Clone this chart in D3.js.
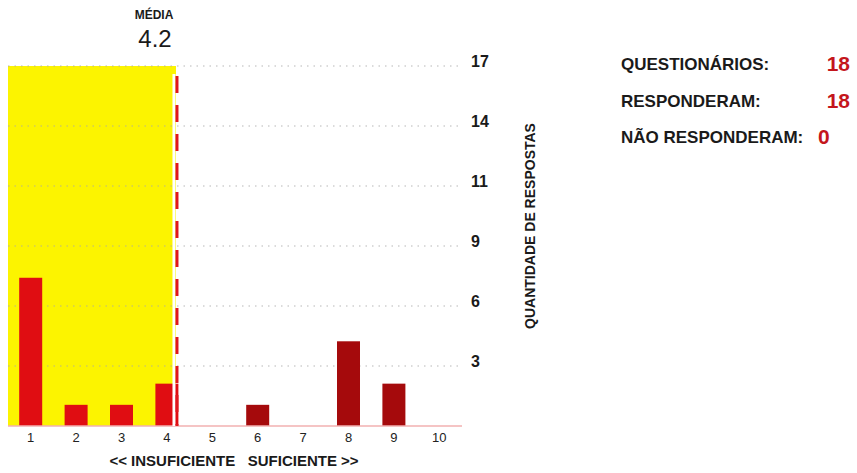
<!DOCTYPE html>
<html>
<head>
<meta charset="utf-8">
<script src="https://cdn.jsdelivr.net/npm/d3@7"></script>
<style>
  body { margin: 0; background: #fff; }
  svg { font-family: "Liberation Sans", Arial, sans-serif; }
</style>
</head>
<body>
<div id="chart"></div>
<script>
  // notas 1..10 e quantidade de respostas
  var notas = [1, 2, 3, 4, 5, 6, 7, 8, 9, 10];
  var respostas = [7, 1, 1, 2, 0, 1, 0, 4, 2, 0];
  var yMax = 17;
  var yTickCount = 6;
  var media = 4.2;
  var resumoLabels = ["QUESTIONÁRIOS:", "RESPONDERAM:", "NÃO RESPONDERAM:"];
  var resumoValores = [18, 18, 0];

  var width = 857, height = 473;

  var svg = d3.select("#chart")
              .append("svg")
              .attr("width", width)
              .attr("height", height);

  var x = d3.scaleLinear().domain([0.5, 10.5]).range([8, 462]);
  var y = d3.scaleLinear().domain([0, yMax]).range([426, 66]);

  var tickVals = d3.range(1, yTickCount + 1).map(function(k) { return yMax * k / yTickCount; });

  // area amarela ate a media
  svg.append("rect")
     .attr("x", x(0.5))
     .attr("y", y(yMax))
     .attr("width", x(media) - x(0.5))
     .attr("height", y(0) - y(yMax))
     .attr("fill", "#fcf400");

  // linhas de grade pontilhadas
  svg.selectAll(".grid")
     .data(tickVals)
     .enter()
     .append("line")
     .attr("class", "grid")
     .attr("x1", x(0.5))
     .attr("x2", x(10.5))
     .attr("y1", function(d) { return y(d); })
     .attr("y2", function(d) { return y(d); })
     .attr("stroke", "#a8a8a8")
     .attr("stroke-width", 1.2)
     .attr("stroke-dasharray", "1.5,5")
     .attr("opacity", 0.8);

  // barras
  var barW = 23;
  svg.selectAll(".bar")
     .data(respostas)
     .enter()
     .append("rect")
     .attr("class", "bar")
     .attr("x", function(d, i) { return x(notas[i]) - barW / 2; })
     .attr("y", function(d) { return y(d); })
     .attr("width", barW)
     .attr("height", function(d) { return y(0) - y(d); })
     .attr("fill", function(d, i) { return notas[i] <= 4 ? "#e00d12" : "#a50a0c"; });

  // eixo x
  svg.append("line")
     .attr("x1", x(0.5))
     .attr("x2", x(10.5))
     .attr("y1", y(0))
     .attr("y2", y(0))
     .attr("stroke", "#f2b0b0")
     .attr("stroke-width", 1.5);

  // linha da media
  svg.append("line")
     .attr("x1", x(media) - 2)
     .attr("x2", x(media) - 2)
     .attr("y1", y(yMax) + 8)
     .attr("y2", y(0))
     .attr("stroke", "#ffffff")
     .attr("stroke-width", 3);

  svg.append("line")
     .attr("x1", x(media) + 1)
     .attr("x2", x(media) + 1)
     .attr("y1", y(yMax) + 10)
     .attr("y2", y(0))
     .attr("stroke", "#e0161e")
     .attr("stroke-width", 3)
     .attr("stroke-dasharray", "17,12");

  // rotulos x
  svg.selectAll(".xlabel")
     .data(notas)
     .enter()
     .append("text")
     .attr("class", "xlabel")
     .attr("x", function(d) { return x(d); })
     .attr("y", 442)
     .attr("text-anchor", "middle")
     .attr("font-size", 13)
     .attr("fill", "#222")
     .text(function(d) { return d; });

  svg.append("text")
     .attr("x", 234)
     .attr("y", 466)
     .attr("text-anchor", "middle")
     .attr("font-size", 15)
     .attr("font-weight", "bold")
     .attr("fill", "#1a1a1a")
     .style("white-space", "pre")
     .text("<< INSUFICIENTE   SUFICIENTE >>");

  // rotulos y
  svg.selectAll(".ylabel")
     .data(tickVals)
     .enter()
     .append("text")
     .attr("class", "ylabel")
     .attr("x", 471)
     .attr("y", function(d) { return y(d) + 1; })
     .attr("font-size", 16)
     .attr("font-weight", "bold")
     .attr("fill", "#1a1a1a")
     .text(function(d) { return Math.round(d); });

  svg.append("text")
     .attr("transform", "translate(535,226) rotate(-90)")
     .attr("text-anchor", "middle")
     .attr("font-size", 14)
     .attr("font-weight", "bold")
     .attr("fill", "#1a1a1a")
     .text("QUANTIDADE DE RESPOSTAS");

  // media no topo
  svg.append("text")
     .attr("x", 154)
     .attr("y", 19)
     .attr("text-anchor", "middle")
     .attr("font-size", 12)
     .attr("font-weight", "bold")
     .attr("fill", "#1a1a1a")
     .text("MÉDIA");

  svg.append("text")
     .attr("x", 155)
     .attr("y", 47)
     .attr("text-anchor", "middle")
     .attr("font-size", 24)
     .attr("fill", "#1a1a1a")
     .text(media.toFixed(1));

  // resumo
  var resumo = svg.selectAll(".resumo")
                  .data(resumoLabels)
                  .enter()
                  .append("g")
                  .attr("class", "resumo")
                  .attr("transform", function(d, i) { return "translate(621," + (70 + i * 36.5) + ")"; });

  resumo.append("text")
        .attr("font-size", 17)
        .attr("font-weight", "bold")
        .attr("fill", "#1a1a1a")
        .text(function(d) { return d; });

  resumo.append("text")
        .attr("x", function(d, i) { return i == 2 ? 197 : 229; })
        .attr("y", 1)
        .attr("text-anchor", function(d, i) { return i == 2 ? "start" : "end"; })
        .attr("font-size", 21)
        .attr("font-weight", "bold")
        .attr("fill", "#c4161c")
        .text(function(d, i) { return resumoValores[i]; });
</script>
</body>
</html>
